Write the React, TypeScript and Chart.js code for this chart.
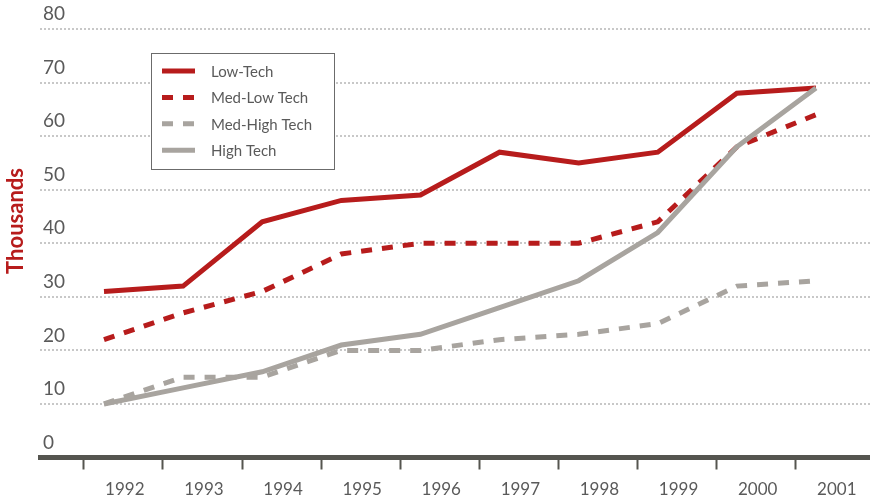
import React, { useEffect, useRef } from "react";
import { Chart, registerables } from "chart.js";

Chart.register(...registerables);

const years = [1992, 1993, 1994, 1995, 1996, 1997, 1998, 1999, 2000, 2001];
const lowTech = [31, 32, 44, 48, 49, 57, 55, 57, 68, 69];
const medLowTech = [22, 27, 31, 38, 40, 40, 40, 44, 58, 64];
const medHighTech = [10, 15, 15, 20, 20, 22, 23, 25, 32, 33];
const highTech = [10, 13, 16, 21, 23, 28, 33, 42, 58, 69];
const yTicks = [0, 10, 20, 30, 40, 50, 60, 70, 80];
const seriesNames = ["Low-Tech", "Med-Low Tech", "Med-High Tech", "High Tech"];
const yTitle = "Thousands";

const RED = "#b71c1c";
const GRAY = "#a8a49f";
const TEXT = "#5a5a5a";
const AXIS = "#55554f";
const FONT = "Lato, 'Open Sans', sans-serif";

const boxLegend = {
  id: "boxLegend",
  afterDraw(chart: any) {
    const { ctx, chartArea } = chart;
    const x0 = chartArea.left + 111;
    const y0 = chartArea.top + 24;
    const w = 183;
    const h = 116;
    ctx.save();
    ctx.fillStyle = "#ffffff";
    ctx.fillRect(x0, y0, w, h);
    ctx.strokeStyle = "#6b6b6b";
    ctx.lineWidth = 1;
    ctx.setLineDash([]);
    ctx.strokeRect(x0 + 0.5, y0 + 0.5, w, h);
    chart.data.datasets.forEach((ds: any, i: number) => {
      const y = y0 + 18 + i * 26.4;
      ctx.beginPath();
      ctx.setLineDash(ds.borderDash || []);
      ctx.lineWidth = ds.borderWidth;
      ctx.strokeStyle = ds.borderColor;
      ctx.lineCap = "butt";
      ctx.moveTo(x0 + 11, y);
      ctx.lineTo(x0 + 44, y);
      ctx.stroke();
      ctx.setLineDash([]);
      ctx.fillStyle = TEXT;
      ctx.font = `15px ${FONT}`;
      ctx.textBaseline = "middle";
      ctx.textAlign = "left";
      ctx.fillText(ds.label, x0 + 60, y + 1);
    });
    ctx.restore();
  },
};

const sideTitle = {
  id: "sideTitle",
  afterDraw(chart: any) {
    const { ctx, chartArea } = chart;
    ctx.save();
    ctx.translate(16, chartArea.top + (chartArea.bottom - chartArea.top) * 0.448);
    ctx.rotate(-Math.PI / 2);
    ctx.textAlign = "center";
    ctx.textBaseline = "middle";
    ctx.font = `bold 22px ${FONT}`;
    ctx.fillStyle = RED;
    ctx.fillText(yTitle, 0, 0);
    ctx.restore();
  },
};

export default function App() {
  const ref = useRef<HTMLCanvasElement | null>(null);

  useEffect(() => {
    if (!ref.current) return;
    const toPts = (arr: number[]) => arr.map((v, i) => ({ x: years[i], y: v }));
    const chart = new Chart(ref.current, {
      type: "line",
      data: {
        datasets: [
          {
            label: seriesNames[0],
            data: toPts(lowTech),
            borderColor: RED,
            borderWidth: 5,
            order: 1,
          },
          {
            label: seriesNames[1],
            data: toPts(medLowTech),
            borderColor: RED,
            borderWidth: 5,
            borderDash: [11, 10],
            order: 2,
          },
          {
            label: seriesNames[2],
            data: toPts(medHighTech),
            borderColor: GRAY,
            borderWidth: 5,
            borderDash: [11, 10],
            order: 3,
          },
          {
            label: seriesNames[3],
            data: toPts(highTech),
            borderColor: GRAY,
            borderWidth: 5,
            order: 0,
          },
        ],
      },
      options: {
        animation: false,
        responsive: false,
        maintainAspectRatio: false,
        layout: { padding: { left: 40, top: 29, right: 0, bottom: 0 } },
        elements: {
          point: { radius: 0, hoverRadius: 0 },
          line: { tension: 0, borderCapStyle: "butt", borderJoinStyle: "miter", fill: false },
        },
        plugins: {
          legend: { display: false },
          tooltip: { enabled: false },
          title: { display: false },
        },
        scales: {
          x: {
            type: "linear",
            min: years[0] - 0.809,
            max: years[years.length - 1] + 0.683,
            afterBuildTicks: (s: any) => {
              s.ticks = years.map((y) => ({ value: y - 0.255 }));
            },
            afterFit: (s: any) => {
              s.height = 43.5;
            },
            ticks: {
              autoSkip: false,
              maxRotation: 0,
              minRotation: 0,
              labelOffset: 41,
              padding: 10,
              color: TEXT,
              font: { family: FONT, size: 17 },
              callback: (_v: any, i: number) => String(years[i]),
            },
            grid: {
              drawOnChartArea: false,
              drawTicks: true,
              tickLength: 12,
              tickWidth: 2,
              tickColor: AXIS,
            },
            border: { display: true, color: AXIS, width: 5 },
          },
          y: {
            min: 0,
            max: 80,
            afterBuildTicks: (s: any) => {
              s.ticks = yTicks.map((v) => ({ value: v }));
            },
            afterFit: (s: any) => {
              s.width = 0;
            },
            ticks: {
              mirror: true,
              padding: 3,
              labelOffset: -15,
              color: TEXT,
              font: { family: FONT, size: 19 },
            },
            grid: { color: "#c8c8c8", lineWidth: 2, drawTicks: false },
            border: { display: false, dash: [2, 2] },
          },
        },
      },
      plugins: [boxLegend, sideTitle],
    } as any);
    return () => chart.destroy();
  }, []);

  return (
    <div style={{ position: "fixed", left: 0, top: 0, width: 870, height: 501, background: "#fff" }}>
      <canvas ref={ref} width={870} height={501} style={{ display: "block" }} />
    </div>
  );
}
